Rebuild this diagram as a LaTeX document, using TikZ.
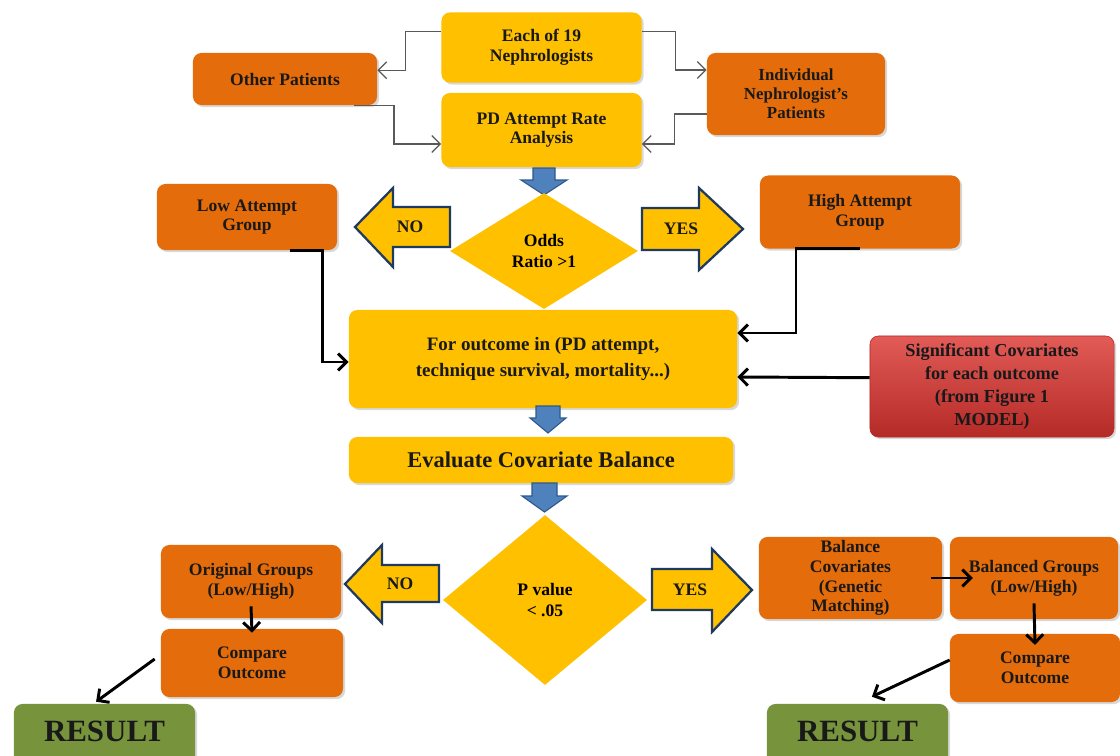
\documentclass[tikz,border=0pt]{standalone}
\usepackage{fontspec}
\setmainfont{Liberation Serif}
\usetikzlibrary{shapes.geometric,arrows.meta,shadows}
\definecolor{gold}{HTML}{FFC000}
\definecolor{pumpkin}{HTML}{E46C0A}
\definecolor{brickhi}{HTML}{E25B57}
\definecolor{bricklo}{HTML}{B42A26}
\definecolor{olive}{HTML}{77933C}
\definecolor{steel}{HTML}{4F81BD}
\definecolor{steeledge}{HTML}{2E5A8C}
\definecolor{navy}{HTML}{1F3A5F}
\tikzset{
	box/.style={rounded corners=6pt, align=center, inner sep=1pt, text=black!90,
		font=\fontsize{12.5}{14}\selectfont\bfseries,
		drop shadow={opacity=0.3, shadow xshift=1.5pt, shadow yshift=-1.5pt}},
	ybox/.style={box, fill=gold},
	obox/.style={box, fill=pumpkin},
	gbox/.style={box, fill=olive, font=\fontsize{22}{24}\selectfont\bfseries},
	decision/.style={diamond, aspect=1.6, inner sep=0pt, fill=gold, align=center,
		font=\fontsize{12.5}{15}\selectfont\bfseries},
	bigarrow/.style={fill=gold, draw=navy, line width=1.6pt, line join=miter},
	downarrow/.style={fill=steel, draw=steeledge, line width=0.8pt},
	graylink/.style={draw=black!65, line width=0.9pt, -{Straight Barb[length=6pt,width=12pt]}},
	blacklink/.style={draw=black, line width=2.1pt, -{Straight Barb[length=6pt,width=12pt]}},
	armlabel/.style={font=\fontsize{12.5}{14}\selectfont\bfseries, text=black!90}
}
\begin{document}
\begin{tikzpicture}[x=0.025cm,y=-0.025cm]
	\clip (0,0) rectangle (1120,756);
	\fill[white] (0,0) rectangle (1120,756);
	% top row
	\node[ybox, minimum width=5cm, minimum height=1.75cm] (each) at (541.5,47.5) {Each of 19\\Nephrologists};
	\node[ybox, minimum width=5cm, minimum height=1.85cm] (pdrate) at (541.5,130) {PD Attempt Rate\\Analysis};
	\node[obox, minimum width=4.6cm, minimum height=1.3cm] (other) at (285,79) {Other Patients};
	\node[obox, minimum width=4.45cm, minimum height=2.05cm, font=\fontsize{12}{13.5}\selectfont\bfseries] (indiv) at (796,94) {Individual\\Nephrologist's\\Patients};
	\draw[graylink] ([yshift=4mm]each.west) -- ++(-36,0) |- ([yshift=2.2mm]other.east);
	\draw[graylink] ([xshift=-5.8mm]other.south east) -- ++(40,0) |- ([yshift=-3.5mm]pdrate.west);
	\draw[graylink] ([yshift=4mm]each.east) -- ++(34,0) |- ([yshift=6mm]indiv.west);
	\draw[graylink] ([yshift=-5mm]indiv.west) -- ++(-32,0) |- ([yshift=-3.5mm]pdrate.east);
	% first decision
	\draw[downarrow] (533,168) -- (555,168) -- (555,180) -- (567,180) -- (544,195) -- (521,180) -- (533,180) -- cycle;
	\node[decision, minimum width=4.7cm, minimum height=2.9cm] (odds) at (544,251) {Odds\\Ratio >1};
	\draw[bigarrow] (450,207) -- (393,207) -- (393,188) -- (355,227) -- (393,267) -- (393,247) -- (450,247) -- cycle;
	\node[armlabel] (no1) at (410,227) {NO};
	\draw[bigarrow] (642,208) -- (699,208) -- (699,188) -- (743,229) -- (699,270) -- (699,250) -- (642,250) -- cycle;
	\node[armlabel] (yes1) at (681,229) {YES};
	\node[obox, minimum width=4.5cm, minimum height=1.65cm] (low) at (247,217) {Low Attempt\\Group};
	\node[obox, minimum width=5cm, minimum height=1.825cm] (high) at (860,212) {High Attempt\\Group};
	% outcome and covariates
	\node[ybox, minimum width=9.7cm, minimum height=2.45cm, font=\fontsize{13.5}{18}\selectfont\bfseries] (outcome) at (543,359) {For outcome in (PD attempt,\\technique survival, mortality...)};
	\node[box, minimum width=6.1cm, minimum height=2.525cm, draw=bricklo, top color=brickhi, bottom color=bricklo, font=\fontsize{13}{16.5}\selectfont\bfseries] (covs) at (992,386.5) {Significant Covariates\\for each outcome\\(from Figure 1\\MODEL)};
	\draw[blacklink] ([xshift=-1.175cm]low.south east) -- ++(32,0) |- ([yshift=-0.075cm]outcome.west);
	\draw[blacklink] (high.south) -- ++(-64,0) |- ([yshift=0.65cm]outcome.east);
	\draw[blacklink] ([yshift=2.2mm]covs.west) -- ([yshift=-4.5mm]outcome.east);
	\draw[downarrow] (536,406) -- (560,406) -- (560,418) -- (566,418) -- (548,433) -- (530,418) -- (536,418) -- cycle;
	\node[ybox, minimum width=9.6cm, minimum height=1.15cm, font=\fontsize{16}{18}\selectfont\bfseries] (evalbal) at (541,460) {Evaluate Covariate Balance};
	% second decision
	\draw[downarrow] (532,483) -- (557,483) -- (557,496) -- (567,496) -- (544.5,512) -- (522,496) -- (532,496) -- cycle;
	\node[decision, minimum width=5.1cm, minimum height=4.25cm] (pval) at (545,600) {P value\\< .05};
	\draw[bigarrow] (439,565) -- (382,565) -- (382,545) -- (345,584) -- (382,623) -- (382,602) -- (439,602) -- cycle;
	\node[armlabel] (no2) at (400,584) {NO};
	\draw[bigarrow] (652,569) -- (712,569) -- (712,549) -- (752,590) -- (712,632) -- (712,610) -- (652,610) -- cycle;
	\node[armlabel] (yes2) at (690,590) {YES};
	% left branch
	\node[obox, minimum width=4.5cm, minimum height=1.825cm] (origgrp) at (251,581.5) {Original Groups\\(Low/High)};
	\node[obox, minimum width=4.55cm, minimum height=1.7cm] (cmpleft) at (252,663) {Compare\\Outcome};
	\node[gbox, minimum width=4.525cm, minimum height=1.8cm] (resleft) at (104.5,740) {};
	\node[font=\fontsize{22}{24}\selectfont\bfseries, text=black!90] (reslefttext) at (104.5,731) {RESULT};
	\draw[blacklink] ([yshift=3mm]origgrp.south) -- ([yshift=-1mm]cmpleft.north);
	\draw[blacklink] ([xshift=-1.5mm,yshift=1mm]cmpleft.west) -- ([xshift=-0.21cm,yshift=0.05cm]resleft.north);
	% right branch
	\node[obox, minimum width=4.575cm, minimum height=2.05cm, font=\fontsize{12.5}{14}\selectfont\bfseries] (balcov) at (850.5,578) {Balance\\Covariates\\(Genetic\\Matching)};
	\node[obox, minimum width=4.2cm, minimum height=2.05cm] (balgrp) at (1034,578) {Balanced Groups\\(Low/High)};
	\node[obox, minimum width=4.25cm, minimum height=1.7cm] (cmpright) at (1035,668) {Compare\\Outcome};
	\node[gbox, minimum width=4.525cm, minimum height=1.8cm] (resright) at (857.5,740) {};
	\node[font=\fontsize{22}{24}\selectfont\bfseries, text=black!90] (resrighttext) at (857.5,731) {RESULT};
	\draw[blacklink] ([xshift=-2.8mm]balcov.east) -- ([xshift=5.8mm]balgrp.west);
	\draw[blacklink] ([yshift=4mm]balgrp.south) -- ([yshift=-2.8mm]cmpright.north);
	\draw[blacklink] ([yshift=2mm]cmpright.west) -- ([xshift=0.36cm,yshift=0.175cm]resright.north);
\end{tikzpicture}
\end{document}
